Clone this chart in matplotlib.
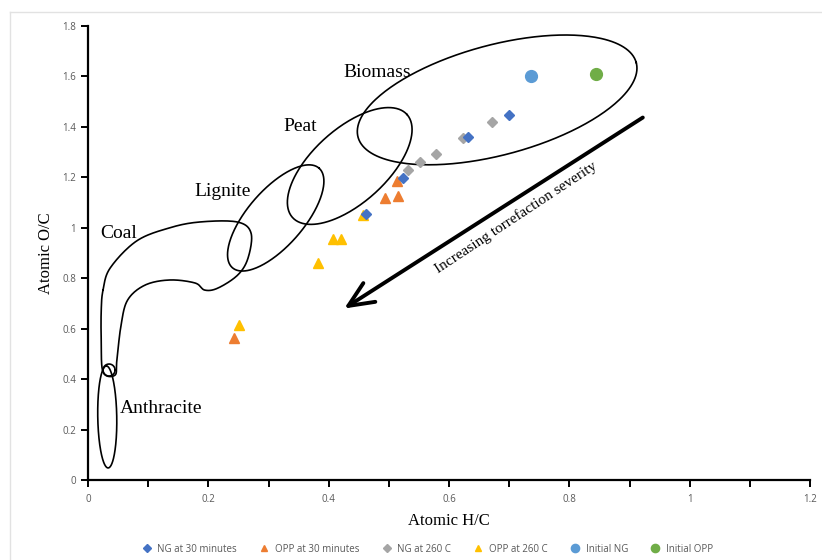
import numpy as np
import matplotlib
matplotlib.use('Agg')
from matplotlib import pyplot as plt
from matplotlib.lines import Line2D

# ---- data (atomic H/C, atomic O/C) ----
ng30_hc = [0.700, 0.632, 0.524, 0.462]
ng30_oc = [1.447, 1.360, 1.197, 1.055]

opp30_hc = [0.513, 0.494, 0.515, 0.243]
opp30_oc = [1.186, 1.118, 1.126, 0.563]

ng260_hc = [0.671, 0.623, 0.578, 0.552, 0.532]
ng260_oc = [1.420, 1.356, 1.293, 1.261, 1.229]

opp260_hc = [0.457, 0.407, 0.420, 0.382, 0.251]
opp260_oc = [1.050, 0.955, 0.955, 0.860, 0.615]

init_ng_hc = [0.736]
init_ng_oc = [1.602]
init_opp_hc = [0.844]
init_opp_oc = [1.610]

x_ticks = [0, 0.2, 0.4, 0.6, 0.8, 1, 1.2]
y_ticks = [0, 0.2, 0.4, 0.6, 0.8, 1, 1.2, 1.4, 1.6, 1.8]

# coal region outline (H/C, O/C)
coal_x = [0.025, 0.037, 0.081, 0.136, 0.186, 0.248, 0.271, 0.266, 0.249, 0.216,
          0.194, 0.178, 0.136, 0.095, 0.066, 0.055, 0.048, 0.045, 0.025, 0.022, 0.022]
coal_y = [0.753, 0.841, 0.948, 1.000, 1.023, 1.023, 0.979, 0.880, 0.813, 0.761,
          0.753, 0.781, 0.793, 0.773, 0.714, 0.615, 0.476, 0.416, 0.428, 0.555, 0.674]

W, H = 822, 560
AX_L, AX_B, AX_W, AX_H = 88, 80, 722, 454
KX = AX_W / 1.2   # px per unit
KY = AX_H / 1.8

serif = 'Liberation Serif'
grey = '#595959'


def ring(cx, cy, a, b, ang):
	'''
	ellipse given in pixel sizes, returned in data units
	'''
	t = np.linspace(0, 2 * np.pi, 300)
	th = np.radians(ang)
	dx = a * np.cos(t) * np.cos(th) - b * np.sin(t) * np.sin(th)
	dy = a * np.cos(t) * np.sin(th) + b * np.sin(t) * np.cos(th)
	return cx + dx / KX, cy + dy / KY


def closed_spline(xs, ys, n=20):
	'''
	closed catmull-rom spline through the points
	'''
	p = np.column_stack([np.array(xs) * KX, np.array(ys) * KY])
	m = len(p)
	out = []
	for i in range(m):
		p0, p1, p2, p3 = p[i - 1], p[i], p[(i + 1) % m], p[(i + 2) % m]
		for t in np.linspace(0, 1, n, endpoint=False):
			t2, t3 = t * t, t * t * t
			pt = 0.5 * ((2 * p1) + (-p0 + p2) * t + (2 * p0 - 5 * p1 + 4 * p2 - p3) * t2
						+ (-p0 + 3 * p1 - 3 * p2 + p3) * t3)
			out.append(pt)
	out.append(out[0])
	out = np.array(out)
	return out[:, 0] / KX, out[:, 1] / KY


fig = plt.figure(figsize=(W / 100, H / 100), dpi=100)
ax = fig.add_axes([AX_L / W, AX_B / H, AX_W / W, AX_H / H])

# faint frame
fig.add_artist(Line2D([10 / W, 1], [1 - 12 / H, 1 - 12 / H], color='#e2e2e2', lw=1))
fig.add_artist(Line2D([10 / W, 10 / W], [0, 1 - 12 / H], color='#e2e2e2', lw=1))

# regions
lk = dict(color='black', lw=1.2, zorder=1)
ax.plot(*ring(0.680, 1.507, 144, 55, 15), **lk)   # biomass
ax.plot(*ring(0.435, 1.245, 77, 37, 42), **lk)    # peat
ax.plot(*ring(0.312, 1.039, 66, 28, 49), **lk)    # lignite
ax.plot(*ring(0.032, 0.250, 51, 9.5, 91), **lk)   # anthracite
ax.plot(*ring(0.035, 0.436, 6, 6, 0), **lk)
ax.plot(*closed_spline(coal_x, coal_y), **lk)

ax.text(0.480, 1.614, 'Biomass', fontsize=14, family=serif, ha='center', va='center')
ax.text(0.352, 1.400, 'Peat', fontsize=14, family=serif, ha='center', va='center')
ax.text(0.224, 1.142, 'Lignite', fontsize=14, family=serif, ha='center', va='center')
ax.text(0.051, 0.979, 'Coal', fontsize=14, family=serif, ha='center', va='center')
ax.text(0.121, 0.285, 'Anthracite', fontsize=14, family=serif, ha='center', va='center')

# arrow
ax.annotate('', xy=(0.422, 0.674), xytext=(0.926, 1.443),
			arrowprops=dict(arrowstyle='->,head_length=0.9,head_width=0.4', lw=2.8,
							color='black', mutation_scale=20))
ax.text(0.711, 1.039, 'Increasing torrefaction severity', fontsize=11, family=serif,
		rotation=33.5, rotation_mode='anchor', ha='center', va='center')

# data
ax.plot(ng30_hc, ng30_oc, 'D', color='#4472C4', ms=5.5, ls='none', label='NG at 30 minutes', zorder=4)
ax.plot(opp30_hc, opp30_oc, '^', color='#ED7D31', ms=7, ls='none', label='OPP at 30 minutes', zorder=3)
ax.plot(ng260_hc, ng260_oc, 'D', color='#A5A5A5', ms=5.5, ls='none', label='NG at 260 C', zorder=3)
ax.plot(opp260_hc, opp260_oc, '^', color='#FFC000', ms=7, ls='none', label='OPP at 260 C', zorder=3)
ax.plot(init_ng_hc, init_ng_oc, 'o', color='#5B9BD5', ms=8.5, ls='none', label='Initial NG', zorder=3)
ax.plot(init_opp_hc, init_opp_oc, 'o', color='#70AD47', ms=8.5, ls='none', label='Initial OPP', zorder=3)

ax.set_xlim(0, 1.2)
ax.set_ylim(0, 1.8)
ax.set_xticks(x_ticks)
ax.set_xticklabels([('%g' % v) for v in x_ticks])
ax.set_xticks(np.arange(0.1, 1.2, 0.2), minor=True)
ax.set_yticks(y_ticks)
ax.set_yticklabels([('%g' % v) for v in y_ticks])

for s in ['top', 'right']:
	ax.spines[s].set_visible(False)
for s in ['left', 'bottom']:
	ax.spines[s].set_linewidth(1.6)
ax.tick_params(axis='both', which='both', width=1.4, length=5, labelsize=7,
			   labelcolor=grey, direction='out')
ax.tick_params(axis='x', pad=5)
for lb in ax.get_xticklabels() + ax.get_yticklabels():
	lb.set_family('Open Sans')

ax.set_xlabel('Atomic H/C', fontsize=12, family=serif, labelpad=6)
ax.set_ylabel('Atomic O/C', fontsize=12, family=serif, labelpad=6)

leg = fig.legend(loc='center', bbox_to_anchor=(425 / W, 1 - 549 / H), ncol=6, frameon=False,
				 fontsize=7, markerscale=0.7, handletextpad=0.1, columnspacing=1.8,
				 prop={'family': 'Open Sans', 'size': 7})
for t in leg.get_texts():
	t.set_color(grey)

fig.savefig('out.png', dpi=100)
